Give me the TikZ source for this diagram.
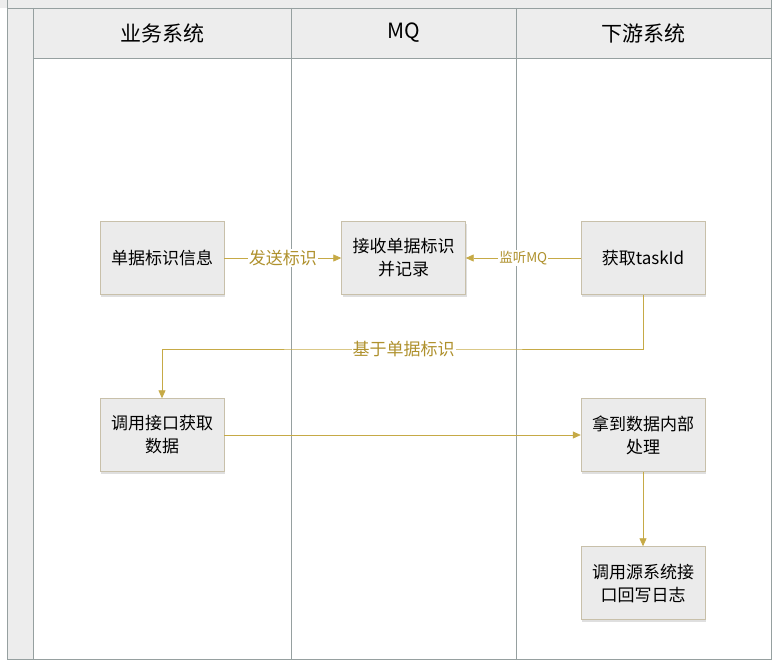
\documentclass[tikz,border=0pt]{standalone}
\usepackage{fontspec}
\setmainfont{Noto Sans CJK SC}
\usetikzlibrary{arrows.meta,shadows}
\definecolor{laneline}{RGB}{150,160,160}
\definecolor{lanefill}{RGB}{237,237,237}
\definecolor{boxfill}{RGB}{235,235,235}
\definecolor{boxline}{RGB}{200,192,170}
\definecolor{flow}{RGB}{198,170,70}
\definecolor{flowtext}{RGB}{175,145,45}
\tikzset{
  task/.style={draw=boxline,fill=boxfill,minimum width=124pt,minimum height=73pt,align=center,
    font=\fontsize{17pt}{23pt}\selectfont,drop shadow={shadow xshift=1pt,shadow yshift=-2pt,opacity=0.25}},
  flowline/.style={draw=flow,line width=0.8pt,-{Triangle[length=8pt,width=7pt]}},
  flowlabel/.style={fill=white,inner sep=1pt,text=flowtext,font=\fontsize{17pt}{19pt}\selectfont},
  lanetitle/.style={font=\fontsize{21pt}{23pt}\selectfont}
}
\begin{document}
\begin{tikzpicture}[x=1pt,y=-1pt]
                \useasboundingbox(0,0)rectangle(778,666);
                \fill[lanefill](0,0)rectangle(771,8);
                \fill[lanefill](7,8)rectangle(33,659);
                \fill[lanefill](33,8)rectangle(771,58);
                \draw[laneline,line width=0.8pt](7,0)--(7,659)--(771,659)--(771,0);
                \draw[laneline,line width=0.8pt](7,8)--(771,8);
                \draw[laneline,line width=0.8pt](33,8)--(33,659);
                \draw[laneline,line width=0.8pt](33,58)--(771,58);
                \draw[laneline,line width=0.8pt](291,8)--(291,659);
                \draw[laneline,line width=0.8pt](516,8)--(516,659);
                \node[lanetitle](biz)at(162,33){业务系统};
                \node[lanetitle](mq)at(403.5,33){MQ};
                \node[lanetitle](down)at(643.5,33){下游系统};
                \node[task](info)at(162,258){单据标识信息};
                \node[task](recv)at(403.5,258){接收单据标识\\并记录};
                \node[task](task)at(643,258){获取taskId};
                \node[task](call)at(162,435){调用接口获取\\数据};
                \node[task](proc)at(643,435){拿到数据内部\\处理};
                \node[task](back)at(643,583){调用源系统接\\口回写日志};
                \coordinate(turn)at(403.5,349);
                \draw[flowline](info)--node[flowlabel]{发送标识}(recv);
                \draw[flowline](task)--node[flowlabel,font=\fontsize{13.5pt}{15pt}\selectfont]{监听MQ}(recv);
                \draw[flowline](task.south)|-(turn)-|(call.north);
                \node[flowlabel]at(turn){基于单据标识};
                \draw[flowline](call)--(proc);
                \draw[flowline](proc)--(back);
            \end{tikzpicture}
\end{document}
